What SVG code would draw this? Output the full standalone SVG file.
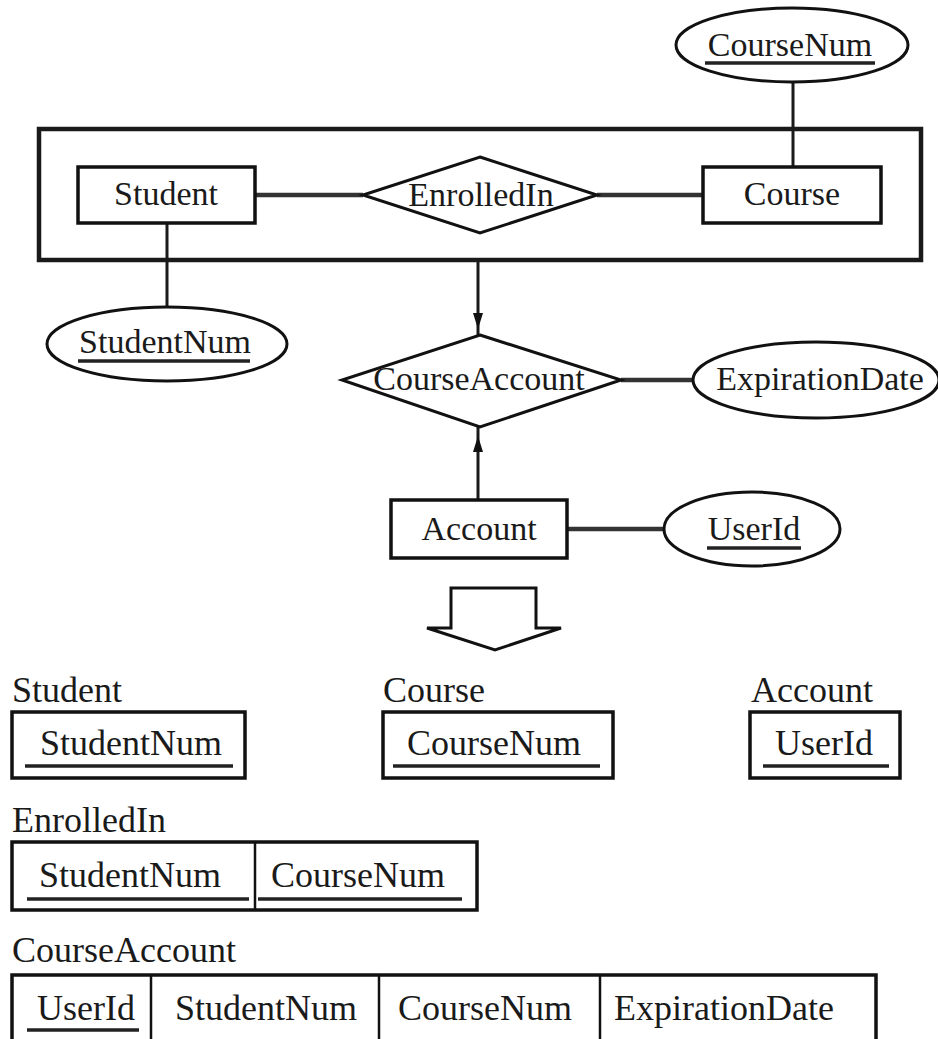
<svg xmlns="http://www.w3.org/2000/svg" width="938" height="1039" viewBox="0 0 938 1039">
<style>
  text { font-family: "Liberation Serif", "Times New Roman", serif; fill: #1a1a1a; }
  .lbl { font-size: 34px; text-anchor: middle; }
  .tbl { font-size: 36px; }
  .tblc { font-size: 36px; text-anchor: middle; }
  .ent { fill: #fff; stroke: #111; stroke-width: 3.5; }
  .rel { fill: #fff; stroke: #111; stroke-width: 3; }
  .att { fill: #fff; stroke: #111; stroke-width: 3; }
  .agg { fill: none; stroke: #1a1a1a; stroke-width: 4.5; }
  .edge { stroke: #1a1a1a; stroke-width: 3; fill: none; }
  .thick { stroke: #333; stroke-width: 4.5; fill: none; }
  .ul { stroke: #222; stroke-width: 3.5; }
  .tab { fill: #fff; stroke: #111; stroke-width: 3.5; }
  .div { stroke: #111; stroke-width: 2.5; }
  .head { fill: #111; stroke: none; }
</style>

<g id="aggregation">
  <rect class="agg" x="39" y="129" width="882" height="131"/>
</g>

<g id="connectors">
  <line class="thick" x1="255" y1="195" x2="363" y2="195"/>
  <line class="thick" x1="597" y1="195" x2="703" y2="195"/>
  <line class="edge" x1="793" y1="82" x2="793" y2="167"/>
  <line class="edge" x1="167" y1="223" x2="167" y2="307"/>
  <line class="edge" x1="478" y1="260" x2="478" y2="335"/>
  <polygon class="head" points="473,313 483,313 478,329"/>
  <line class="edge" x1="478" y1="427" x2="478" y2="500"/>
  <polygon class="head" points="473,452 483,452 478,436"/>
  <line class="thick" x1="621" y1="380" x2="693" y2="380"/>
  <line class="thick" x1="567" y1="529" x2="665" y2="529"/>
</g>

<g id="Student">
  <rect class="ent" x="78" y="167" width="177" height="56"/>
  <text class="lbl" x="166" y="205">Student</text>
</g>

<g id="EnrolledIn">
  <polygon class="rel" points="480,157 597,195 480,233 363,195"/>
  <text class="lbl" x="481" y="206">EnrolledIn</text>
</g>

<g id="Course">
  <rect class="ent" x="703" y="167" width="178" height="56"/>
  <text class="lbl" x="792" y="205">Course</text>
</g>

<g id="CourseNum">
  <ellipse class="att" cx="792" cy="45" rx="116" ry="37"/>
  <text class="lbl" x="790" y="56">CourseNum</text>
  <line class="ul" x1="705" y1="63" x2="875" y2="63"/>
</g>

<g id="StudentNum">
  <ellipse class="att" cx="167" cy="344" rx="120" ry="37"/>
  <text class="lbl" x="165" y="353">StudentNum</text>
  <line class="ul" x1="78" y1="361" x2="250" y2="361"/>
</g>

<g id="CourseAccount">
  <polygon class="rel" points="480,335 621,380 480,427 342,380"/>
  <text class="lbl" x="479" y="390">CourseAccount</text>
</g>

<g id="ExpirationDate">
  <ellipse class="att" cx="816" cy="380" rx="123" ry="38"/>
  <text class="lbl" x="820" y="390">ExpirationDate</text>
</g>

<g id="Account">
  <rect class="ent" x="391" y="500" width="176" height="58"/>
  <text class="lbl" x="479" y="540">Account</text>
</g>

<g id="UserId">
  <ellipse class="att" cx="752" cy="529" rx="88" ry="37"/>
  <text class="lbl" x="754" y="540">UserId</text>
  <line class="ul" x1="707" y1="548" x2="801" y2="548"/>
</g>

<g id="transform-arrow">
  <polygon fill="#fff" stroke="#111" stroke-width="3" points="451,588 536,588 536,628 561,628 495,650 427,628 451,628"/>
</g>

<g id="table-Student">
  <text class="tbl" x="12" y="702">Student</text>
  <rect class="tab" x="12" y="712" width="233" height="66"/>
  <text class="tblc" x="131" y="755">StudentNum</text>
  <line class="ul" x1="25" y1="766" x2="233" y2="766"/>
</g>

<g id="table-Course">
  <text class="tbl" x="383" y="702">Course</text>
  <rect class="tab" x="383" y="712" width="230" height="66"/>
  <text class="tblc" x="494" y="755">CourseNum</text>
  <line class="ul" x1="393" y1="766" x2="600" y2="766"/>
</g>

<g id="table-Account">
  <text class="tbl" x="751" y="702">Account</text>
  <rect class="tab" x="750" y="712" width="150" height="66"/>
  <text class="tblc" x="824" y="755">UserId</text>
  <line class="ul" x1="763" y1="766" x2="889" y2="766"/>
</g>

<g id="table-EnrolledIn">
  <text class="tbl" x="12" y="832">EnrolledIn</text>
  <rect class="tab" x="12" y="842" width="465" height="68"/>
  <line class="div" x1="255" y1="842" x2="255" y2="910"/>
  <text class="tblc" x="130" y="887">StudentNum</text>
  <line class="ul" x1="27" y1="899" x2="249" y2="899"/>
  <text class="tblc" x="358" y="887">CourseNum</text>
  <line class="ul" x1="258" y1="899" x2="462" y2="899"/>
</g>

<g id="table-CourseAccount">
  <text class="tbl" x="12" y="962">CourseAccount</text>
  <rect class="tab" x="12" y="975" width="864" height="80"/>
  <line class="div" x1="151" y1="975" x2="151" y2="1039"/>
  <line class="div" x1="379" y1="975" x2="379" y2="1039"/>
  <line class="div" x1="600" y1="975" x2="600" y2="1039"/>
  <text class="tblc" x="86" y="1020">UserId</text>
  <line class="ul" x1="27" y1="1030" x2="139" y2="1030"/>
  <text class="tblc" x="266" y="1020">StudentNum</text>
  <text class="tblc" x="485" y="1020">CourseNum</text>
  <text class="tblc" x="724" y="1020">ExpirationDate</text>
</g>
</svg>
